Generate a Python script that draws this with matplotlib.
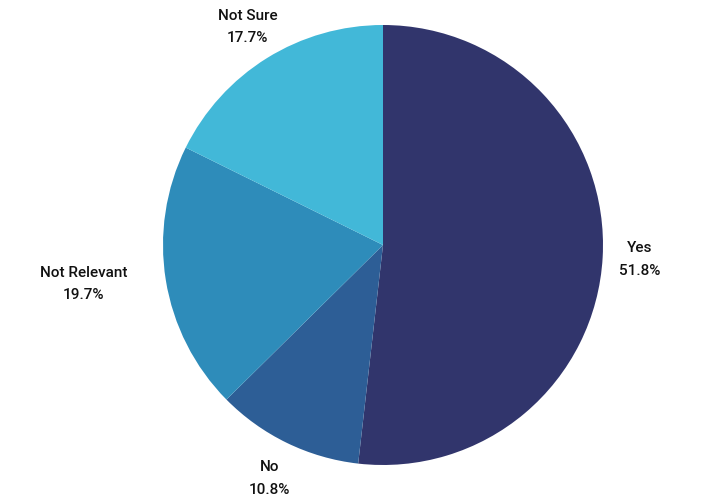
import matplotlib
matplotlib.use("Agg")
import matplotlib.pyplot as plt
import numpy as np

categories = ["Yes", "No", "Not Relevant", "Not Sure"]
values = [51.8, 10.8, 19.7, 17.7]
colors = ["#31356C", "#2D5E96", "#2E8CBA", "#42B8D8"]

plt.rcParams['font.family'] = ['Roboto', 'DejaVu Sans']

fig = plt.figure(figsize=(7.01, 4.99), dpi=100)
W, H = 701, 499
cx, cy, r = 383, 245, 220
ax = fig.add_axes([(cx - r) / W, (H - cy - r) / H, 2 * r / W, 2 * r / H])

wedges, _ = ax.pie(values, colors=colors, startangle=90, counterclock=False,
                   radius=1, wedgeprops=dict(linewidth=0))
ax.set_xlim(-1, 1)
ax.set_ylim(-1, 1)
ax.set_aspect('equal')
ax.axis('off')

label_dist = [1.17, 1.18, 1.38, 1.165]
for w, cat, v, d in zip(wedges, categories, values, label_dist):
    ang = np.deg2rad((w.theta1 + w.theta2) / 2)
    x, y = d * np.cos(ang), d * np.sin(ang)
    if cat == "Not Relevant":
        y *= 0.8
    ax.text(x, y, f"{cat}\n{v:.1f}%",
            ha="center", va="center", fontsize=11, fontweight="medium",
            color="#111111", linespacing=1.75, clip_on=False)

fig.savefig("out.png", dpi=100)
